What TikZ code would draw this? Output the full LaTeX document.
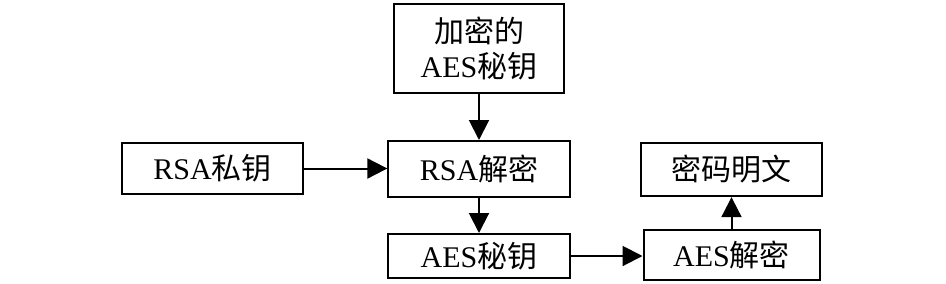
\documentclass[tikz,border=0pt]{standalone}
\usepackage{fontspec}
\setmainfont{Liberation Serif}
\newfontfamily\cjk{Noto Sans CJK SC}
\usetikzlibrary{arrows.meta}
\begin{document}
\begin{tikzpicture}[x=0.75pt,y=-0.75pt,
  box/.style={draw,line width=1.5pt,inner sep=0pt,align=center,font=\fontsize{22.5pt}{26pt}\selectfont},
  arr/.style={line width=1.5pt,-{Triangle[length=15pt,width=15pt]}}]
\useasboundingbox (0,0) rectangle (946,283);
\node[box,minimum width=128pt,minimum height=67pt] (enc) at (479,48.5) {{\cjk 加密的}\\AES{\cjk 秘钥}};
\node[box,minimum width=136pt,minimum height=38pt] (rsakey) at (212.5,168.5) {RSA{\cjk 私钥}};
\node[box,minimum width=136pt,minimum height=42pt] (rsadec) at (479,169) {RSA{\cjk 解密}};
\node[box,minimum width=136pt,minimum height=40pt] (plain) at (731.5,169.5) {{\cjk 密码明文}};
\node[box,minimum width=136pt,minimum height=33pt] (aeskey) at (479,256) {AES{\cjk 秘钥}};
\node[box,minimum width=132pt,minimum height=37.5pt] (aesdec) at (731.5,255) {AES{\cjk 解密}};
\draw[arr] (enc) -- (rsadec);
\draw[arr] (rsakey) -- (rsakey -| rsadec.west);
\draw[arr] (rsadec) -- (aeskey);
\draw[arr] (aeskey) -- (aeskey -| aesdec.west);
\draw[arr] (aesdec) -- (plain);
\end{tikzpicture}
\end{document}
